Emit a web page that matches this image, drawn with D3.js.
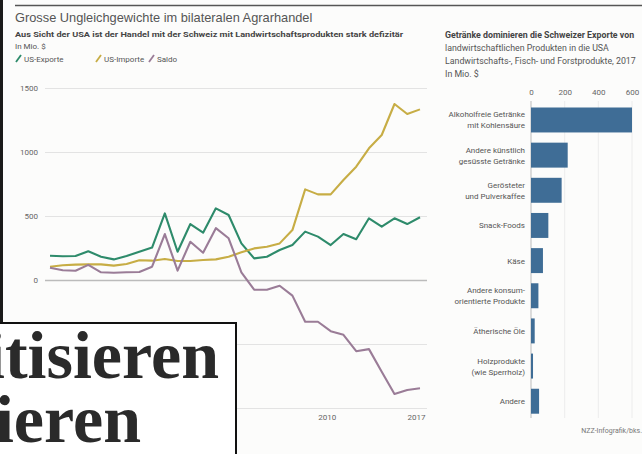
<!DOCTYPE html>
<html>
<head>
<meta charset="utf-8">
<script src="https://cdn.jsdelivr.net/npm/d3@7"></script>
<style>
  body { margin: 0; background: #fcfcfb; }
  svg { display: block; }
  .small { font-family: "Liberation Sans Narrow", "Roboto", "Liberation Sans", sans-serif; font-size: 8px; fill: #555; }
  .tick text { font-family: "Liberation Sans Narrow", "Roboto", "Liberation Sans", sans-serif; font-size: 8px; fill: #666; }
</style>
</head>
<body>
<div id="chart"></div>
<script>
// line chart data (Mio. $)
var years = [1988, 1989, 1990, 1991, 1992, 1993, 1994, 1995, 1996, 1997,
  1998, 1999, 2000, 2001, 2002, 2003, 2004, 2005, 2006, 2007,
  2008, 2009, 2010, 2011, 2012, 2013, 2014, 2015, 2016, 2017];
var exporte = [190, 185, 187, 225, 182, 161, 187, 221, 253, 520,
  221, 437, 370, 560, 508, 286, 169, 182, 234, 273,
  378, 339, 273, 359, 318, 482, 417, 482, 437, 490];
var importe = [104, 115, 120, 122, 122, 112, 125, 154, 151, 164,
  148, 148, 156, 161, 182, 216, 247, 260, 286, 390,
  708, 669, 669, 781, 885, 1029, 1133, 1375, 1297, 1333];
var saldo = [95, 76, 72, 118, 60, 57, 60, 63, 104, 359,
  73, 299, 213, 405, 326, 60, -76, -76, -45, -122,
  -326, -326, -400, -428, -556, -540, -716, -891, -859, -846];
var yTicks = [1500, 1000, 500, 0, -500, -1000];
var xTicks = [2010, 2017];

// bar chart data, 2017
var categories = ["Alkoholfreie Getränke\nmit Kohlensäure", "Andere künstlich\ngesüsste Getränke",
  "Gerösteter\nund Pulverkaffee", "Snack-Foods", "Käse", "Andere konsum-\norientierte Produkte",
  "Ätherische Öle", "Holzprodukte\n(wie Sperrholz)", "Andere"];
var exportValues = [600, 218, 182, 103, 71, 44, 22, 12, 48];
var barTicks = [0, 200, 400, 600];

var svgWidth = 642;
var svgHeight = 454;

var svg = d3.select("#chart")
  .append("svg")
  .attr("width", svgWidth)
  .attr("height", svgHeight);

svg.append("rect")
  .attr("width", svgWidth)
  .attr("height", svgHeight)
  .attr("fill", "#fcfcfb");

// top rule and left dark edge
svg.append("line")
  .attr("x1", 15).attr("x2", svgWidth)
  .attr("y1", 5.5).attr("y2", 5.5)
  .attr("stroke", "#555")
  .attr("stroke-width", 1.5);

svg.append("rect")
  .attr("x", 0).attr("y", 0)
  .attr("width", 3).attr("height", 324)
  .attr("fill", "#1a1a1a");

// ---------- left: line chart ----------
svg.append("text")
  .attr("x", 15).attr("y", 22)
  .attr("font-family", "Liberation Sans, Arial, sans-serif")
  .attr("font-size", "12.8px")
  .attr("fill", "#555")
  .text("Grosse Ungleichgewichte im bilateralen Agrarhandel");

svg.append("text")
  .attr("class", "small")
  .attr("x", 15).attr("y", 37)
  .attr("font-weight", "bold")
  .attr("textLength", 388)
  .attr("lengthAdjust", "spacingAndGlyphs")
  .style("fill", "#444")
  .text("Aus Sicht der USA ist der Handel mit der Schweiz mit Landwirtschaftsprodukten stark defizitär");

svg.append("text")
  .attr("class", "small")
  .attr("x", 15).attr("y", 49)
  .text("In Mio. $");

var legend = [
  {name: "US-Exporte", color: "#2e8b6b", x: 15},
  {name: "US-Importe", color: "#c7ad45", x: 95},
  {name: "Saldo", color: "#9a7c97", x: 148}
];

var legendGroup = svg.selectAll(".legend")
  .data(legend)
  .enter()
  .append("g")
  .attr("class", "legend")
  .attr("transform", d => `translate(${d.x}, 59)`);

legendGroup.append("line")
  .attr("x1", 1).attr("y1", 3)
  .attr("x2", 6).attr("y2", -4)
  .attr("stroke", d => d.color)
  .attr("stroke-width", 1.8);

legendGroup.append("text")
  .attr("class", "small")
  .attr("x", 9).attr("y", 3)
  .text(d => d.name);

var xLinearScale = d3.scaleLinear()
  .domain([1988, 2017])
  .range([50, 420]);

var yLinearScale = d3.scaleLinear()
  .domain([-1000, 1500])
  .range([408, 88]);

// negative labels sit under the pasted box, only the grid shows there
var leftAxis = d3.axisLeft(yLinearScale)
  .tickValues(yTicks)
  .tickSize(-382)
  .tickPadding(7)
  .tickFormat(d => d < 0 ? "" : d);

var yAxisGroup = svg.append("g")
  .attr("transform", "translate(45, 0)")
  .call(leftAxis);

yAxisGroup.select(".domain").remove();
yAxisGroup.selectAll(".tick line")
  .attr("stroke", d => d === 0 ? "#bbb" : "#e3e3e3")
  .attr("stroke-width", d => d === 0 ? 1.3 : 1);

var bottomAxis = d3.axisBottom(xLinearScale)
  .tickValues(xTicks)
  .tickSize(0)
  .tickPadding(6)
  .tickFormat(d3.format("d"));

var xAxisGroup = svg.append("g")
  .attr("transform", "translate(0, 408)")
  .call(bottomAxis);

xAxisGroup.select(".domain").remove();
xAxisGroup.selectAll(".tick text").attr("dx", "-4");

var series = [
  {values: exporte, color: "#2e8b6b"},
  {values: importe, color: "#c7ad45"},
  {values: saldo, color: "#9a7c97"}
];

var line = d3.line()
  .x((d, i) => xLinearScale(years[i]))
  .y(d => yLinearScale(d));

svg.selectAll(".series")
  .data(series)
  .enter()
  .append("path")
  .attr("class", "series")
  .attr("d", d => line(d.values))
  .attr("fill", "none")
  .attr("stroke", d => d.color)
  .attr("stroke-width", 2.1)
  .attr("stroke-linejoin", "round");

// ---------- right: bar chart ----------
var heading = [
  {text: "Getränke dominieren die Schweizer Exporte von", y: 38, bold: true},
  {text: "landwirtschaftlichen Produkten in die USA", y: 51, bold: false},
  {text: "Landwirtschafts-, Fisch- und Forstprodukte, 2017", y: 64, bold: false},
  {text: "In Mio. $", y: 77, bold: false}
];

svg.selectAll(".heading")
  .data(heading)
  .enter()
  .append("text")
  .attr("class", "small heading")
  .attr("x", 445)
  .attr("y", d => d.y)
  .attr("font-weight", d => d.bold ? "bold" : "normal")
  .style("font-size", "8.8px")
  .style("fill", d => d.bold ? "#444" : "#555")
  .text(d => d.text);

var xBarScale = d3.scaleLinear()
  .domain([0, 600])
  .range([531, 632]);

var yBandScale = d3.scaleBand()
  .domain(categories)
  .range([102.4, 418.8])
  .paddingInner(0.29)
  .paddingOuter(0.145);

var topAxis = d3.axisTop(xBarScale)
  .tickValues(barTicks)
  .tickSize(0)
  .tickPadding(5);

var barAxisGroup = svg.append("g")
  .attr("transform", "translate(0, 100)")
  .call(topAxis);

barAxisGroup.select(".domain").remove();

svg.selectAll(".vgrid")
  .data(barTicks)
  .enter()
  .append("line")
  .attr("class", "vgrid")
  .attr("x1", d => xBarScale(d))
  .attr("x2", d => xBarScale(d))
  .attr("y1", 101)
  .attr("y2", 418)
  .attr("stroke", d => d === 0 ? "#bbb" : "#ececec")
  .attr("stroke-width", 1);

svg.selectAll(".bar")
  .data(exportValues)
  .enter()
  .append("rect")
  .attr("class", "bar")
  .attr("x", xBarScale(0))
  .attr("y", (d, i) => yBandScale(categories[i]))
  .attr("width", d => xBarScale(d) - xBarScale(0))
  .attr("height", yBandScale.bandwidth())
  .attr("fill", "#3f6d96");

var labels = svg.selectAll(".catlabel")
  .data(categories)
  .enter()
  .append("text")
  .attr("class", "small catlabel")
  .attr("text-anchor", "end")
  .attr("y", d => yBandScale(d) + yBandScale.bandwidth() / 2);

labels.each(function(d) {
  var parts = d.split("\n");
  var el = d3.select(this);
  parts.forEach(function(p, k) {
    el.append("tspan")
      .attr("x", 525)
      .attr("dy", k === 0 ? (3 - (parts.length - 1) * 5.5) : 11)
      .text(p);
  });
});

svg.append("text")
  .attr("class", "small")
  .attr("x", 642)
  .attr("y", 433)
  .attr("text-anchor", "end")
  .style("font-size", "7px")
  .style("fill", "#777")
  .text("NZZ-Infografik/bks.");

// ---------- pasted box over the chart ----------
svg.append("rect")
  .attr("x", -3).attr("y", 323)
  .attr("width", 239).attr("height", 140)
  .attr("fill", "#ffffff")
  .attr("stroke", "#111")
  .attr("stroke-width", 2);

svg.append("text")
  .attr("x", 219).attr("y", 378)
  .attr("text-anchor", "end")
  .attr("font-family", "Liberation Serif, Times New Roman, serif")
  .attr("font-weight", "bold")
  .attr("font-size", "68px")
  .attr("fill", "#2a2a2a")
  .text("kritisieren");

svg.append("text")
  .attr("x", 141).attr("y", 442)
  .attr("text-anchor", "end")
  .attr("font-family", "Liberation Serif, Times New Roman, serif")
  .attr("font-weight", "bold")
  .attr("font-size", "68px")
  .attr("fill", "#2a2a2a")
  .text("rieren");
</script>
</body>
</html>
